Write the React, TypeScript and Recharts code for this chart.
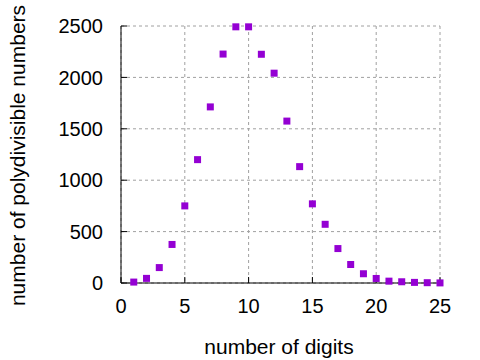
import { ScatterChart, Scatter, XAxis, YAxis, CartesianGrid } from 'recharts';

const digits = [1, 2, 3, 4, 5, 6, 7, 8, 9, 10, 11, 12, 13, 14, 15, 16, 17, 18, 19, 20, 21, 22, 23, 24, 25];
const counts = [9, 45, 150, 375, 750, 1200, 1713, 2227, 2492, 2492, 2225, 2041, 1575, 1132, 770, 571, 335, 180, 90, 44, 18, 12, 6, 3, 1];
const xTicks = [0, 5, 10, 15, 20, 25];
const yTicks = [0, 500, 1000, 1500, 2000, 2500];

const data = digits.map((d, i) => ({ digits: d, count: counts[i] }));

const family = 'Liberation Sans, Arial, sans-serif';
const tickFont = { fontFamily: family, fontSize: 20, fill: '#000' };
const labelFont = { fontFamily: family, fontSize: 21, fill: '#000' };

const Square = (props: any) => (
  <rect x={props.cx - 3.5} y={props.cy - 3.5} width={7} height={7} fill="#9400d3" />
);

const YLabel = () => (
  <text transform="translate(25,155.5) rotate(-90)" textAnchor="middle" {...labelFont}>
    number of polydivisible numbers
  </text>
);

const XLabel = () => (
  <text x={279} y={354} textAnchor="middle" {...labelFont}>
    number of digits
  </text>
);

export default function App() {
  return (
    <div style={{ position: 'absolute', left: 0, top: 0, background: '#fff' }}>
      <ScatterChart width={480} height={360} margin={{ top: 26, right: 40, bottom: 47, left: 0 }}>
        <CartesianGrid stroke="#a0a0a0" strokeDasharray="3 3" horizontalValues={yTicks} verticalValues={xTicks} />
        <XAxis
          dataKey="digits"
          type="number"
          domain={[0, 25]}
          ticks={xTicks}
          height={30}
          tickSize={-6}
          tickMargin={22}
          tick={tickFont}
          axisLine={{ stroke: '#000' }}
          tickLine={{ stroke: '#000' }}
          label={<XLabel />}
        />
        <XAxis
          xAxisId="top"
          orientation="top"
          type="number"
          domain={[0, 25]}
          ticks={xTicks}
          height={0}
          tickSize={-6}
          tick={false}
          axisLine={{ stroke: '#000' }}
          tickLine={{ stroke: '#000' }}
        />
        <YAxis
          dataKey="count"
          type="number"
          domain={[0, 2500]}
          ticks={yTicks}
          width={121}
          tickSize={-6}
          tickMargin={24}
          tick={tickFont}
          axisLine={{ stroke: '#000' }}
          tickLine={{ stroke: '#000' }}
          label={<YLabel />}
        />
        <YAxis
          yAxisId="right"
          orientation="right"
          type="number"
          domain={[0, 2500]}
          ticks={yTicks}
          width={0}
          tickSize={-6}
          tick={false}
          axisLine={{ stroke: '#000' }}
          tickLine={{ stroke: '#000' }}
        />
        <Scatter data={data} shape={<Square />} isAnimationActive={false} />
      </ScatterChart>
    </div>
  );
}
